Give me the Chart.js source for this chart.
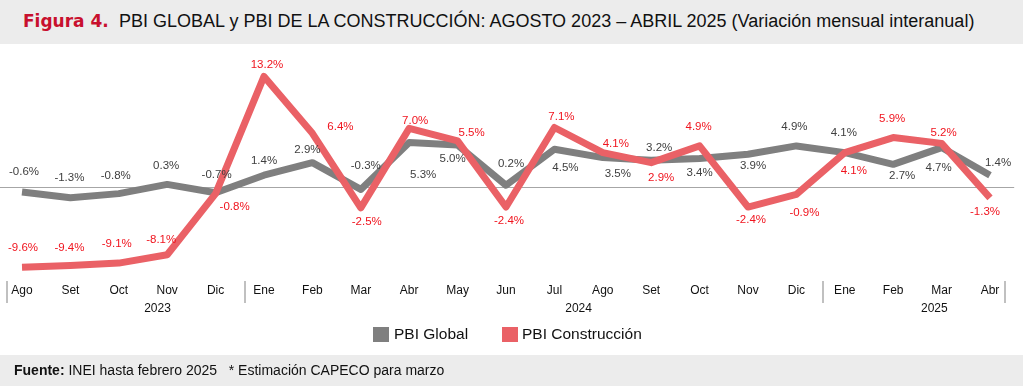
<!DOCTYPE html>
<html>
<head>
<meta charset="utf-8">
<script src="https://cdn.jsdelivr.net/npm/chart.js@4/dist/chart.umd.min.js"></script>
<style>
  body { margin: 0; width: 1023px; height: 386px; position: relative; background: #fff; overflow: hidden; font-family: "Liberation Sans", Arial, sans-serif; }
  .titulo { position: absolute; left: 0; top: 0; width: 1023px; height: 44px; background: #ececec; }
  .titulo .fig { position: absolute; left: 23px; top: 11px; font-family: "DejaVu Sans", Verdana, sans-serif; font-weight: bold; font-size: 17px; color: #c8102e; }
  .titulo .txt { position: absolute; left: 119px; top: 11px; font-size: 18px; color: #111; white-space: nowrap; }
  #wrap { position: absolute; left: 0; top: 44px; width: 1023px; height: 311px; }
  .leyenda { position: absolute; top: 324px; left: 0; width: 1023px; height: 22px; font-size: 15.5px; color: #111; }
  .leyenda .box { position: absolute; top: 3px; width: 16px; height: 15px; }
  .leyenda .lbl { position: absolute; top: 1px; white-space: nowrap; }
  .pie { position: absolute; left: 0; top: 355px; width: 1023px; height: 31px; background: #ececec; font-size: 14px; color: #111; }
  .pie span { position: absolute; left: 14px; top: 7px; white-space: nowrap; }
</style>
</head>
<body>
<div class="titulo">
  <span class="fig">Figura 4.</span>
  <span class="txt">PBI GLOBAL y PBI DE LA CONSTRUCCIÓN: AGOSTO 2023 – ABRIL 2025 (Variación mensual interanual)</span>
</div>
<div id="wrap"><canvas id="pbiChart" width="1023" height="311"></canvas></div>
<div class="leyenda">
  <div class="box" style="left:373px;background:#7f7f7f"></div><div class="lbl" style="left:394px">PBI Global</div>
  <div class="box" style="left:502px;background:#ea6166"></div><div class="lbl" style="left:522px">PBI Construcción</div>
</div>
<div class="pie"><span><b>Fuente:</b> INEI hasta febrero 2025 &nbsp; * Estimación CAPECO para marzo</span></div>
<script>
// meses (ago 2023 - abr 2025)
var meses = ["Ago", "Set", "Oct", "Nov", "Dic", "Ene", "Feb", "Mar", "Abr", "May", "Jun", "Jul",
  "Ago", "Set", "Oct", "Nov", "Dic", "Ene", "Feb", "Mar", "Abr"];
var anios = ["2023", "2024", "2025"];
var pbiGlobal = [-0.6, -1.3, -0.8, 0.3, -0.7, 1.4, 2.9, -0.3, 5.3, 5.0, 0.2, 4.5, 3.5, 3.2, 3.4, 3.9, 4.9, 4.1, 2.7, 4.7, 1.4];
var pbiConstruccion = [-9.6, -9.4, -9.1, -8.1, -0.8, 13.2, 6.4, -2.5, 7.0, 5.5, -2.4, 7.1, 4.1, 2.9, 4.9, -2.4, -0.9, 4.1, 5.9, 5.2, -1.3];

// donde van las etiquetas (desplazamiento respecto al punto)
var offGlobal = [[2,-20],[-1,-20],[-3,-18],[-1,-19],[1,-18],[0,-14],[-5,-13],[5,-24],[14,32],[-5,14],[5,-21],
  [11,19],[15,16],[8,-12],[0,14],[5,12],[-2,-19],[-1,-20],[9,12],[-3,20],[8,-12]];
var offConst = [[1,-19],[-1,-18],[-2,-19],[-6,-15],[19,13],[3,-12],[28,-7],[6,14],[6,-8],[14,-8],[3,14],
  [7,-11],[13,-9],[10,15],[-1,-19],[3,13],[8,18],[9,18],[-1,-19],[2,-11],[-5,14]];
var separadores = [-0.3, 4.6, 16.55, 20.3];
var posAnios = [2.8, 11.5, 18.85];

var ejePlugin = {
  id: "ejePlugin",
  beforeDatasetsDraw: function (chart) {
    var c = chart.ctx, x = chart.scales.x, y = chart.scales.y;
    var y0 = y.getPixelForValue(0);
    c.save();
    c.strokeStyle = "#a6a6a6";
    c.lineWidth = 1;
    c.beginPath();
    c.moveTo(0, Math.round(y0) + 0.5);
    c.lineTo(x.getPixelForValue(20.5), Math.round(y0) + 0.5);
    c.stroke();

    c.strokeStyle = "#c0c0c0";
    c.lineWidth = 2;
    separadores.forEach(function (s) {
      var px = Math.round(x.getPixelForValue(s));
      c.beginPath();
      c.moveTo(px, 237);
      c.lineTo(px, 259);
      c.stroke();
    });

    c.fillStyle = "#111";
    c.font = "12px 'Liberation Sans', Arial, sans-serif";
    c.textAlign = "center";
    c.textBaseline = "middle";
    meses.forEach(function (m, i) {
      c.fillText(m, x.getPixelForValue(i), 247);
    });
    anios.forEach(function (a, i) {
      c.fillText(a, x.getPixelForValue(posAnios[i]), 265);
    });
    c.restore();
  },
  afterDatasetsDraw: function (chart) {
    var c = chart.ctx;
    c.save();
    c.font = "11.5px 'Liberation Sans', Arial, sans-serif";
    c.textAlign = "center";
    c.textBaseline = "middle";
    var sets = [[0, offGlobal, "#404040"], [1, offConst, "#f0141e"]];
    sets.forEach(function (s) {
      var meta = chart.getDatasetMeta(s[0]);
      var vals = chart.data.datasets[s[0]].data;
      c.fillStyle = s[2];
      meta.data.forEach(function (pt, i) {
        c.fillText(vals[i].toFixed(1) + "%", pt.x + s[1][i][0], pt.y + s[1][i][1]);
      });
    });
    c.restore();
  }
};

var ctx = document.getElementById("pbiChart").getContext("2d");
var pbiChart = new Chart(ctx, {
  type: "line",
  data: {
    labels: meses,
    datasets: [
      {
        label: "PBI Global",
        data: pbiGlobal,
        borderColor: "#7f7f7f",
        borderWidth: 7,
        pointRadius: 0,
        tension: 0,
        borderJoinStyle: "round",
        order: 2,
      },
      {
        label: "PBI Construcción",
        data: pbiConstruccion,
        borderColor: "#ea6166",
        borderWidth: 7,
        pointRadius: 0,
        tension: 0,
        borderJoinStyle: "round",
        order: 1,
      },
    ],
  },
  options: {
    responsive: false,
    animation: false,
    devicePixelRatio: 1,
    layout: { padding: { left: 22, right: 33, top: 9, bottom: 76 } },
    plugins: { legend: { display: false }, tooltip: { enabled: false } },
    scales: {
      x: { display: false },
      y: { display: false, min: -11, max: 16 },
    },
  },
  plugins: [ejePlugin],
});
</script>
</body>
</html>
